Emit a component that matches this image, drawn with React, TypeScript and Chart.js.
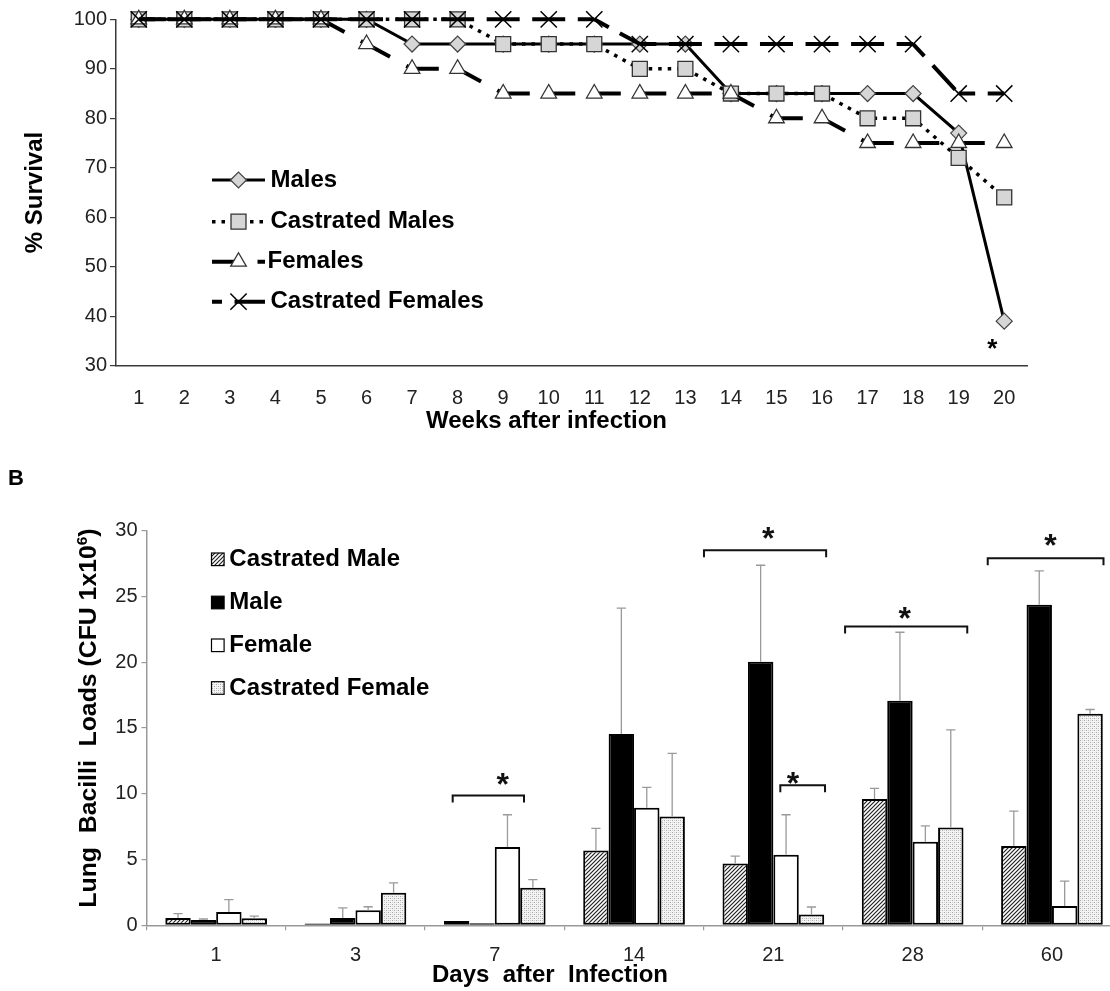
import React, { useEffect, useRef } from 'react';
import { Chart, registerables } from 'chart.js';
import { drawPoint } from 'chart.js/helpers';

Chart.register(...registerables);

const FONT = '"Liberation Sans", Arial, Helvetica, sans-serif';
Chart.defaults.font.family = FONT;

// ---------- Panel A: survival ----------
const weeks = ['1', '2', '3', '4', '5', '6', '7', '8', '9', '10', '11', '12', '13', '14', '15', '16', '17', '18', '19', '20'];
const males = [100, 100, 100, 100, 100, 100, 95, 95, 95, 95, 95, 95, 95, 85, 85, 85, 85, 85, 77, 39];
const castratedMales = [100, 100, 100, 100, 100, 100, 100, 100, 95, 95, 95, 90, 90, 85, 85, 85, 80, 80, 72, 64];
const females = [100, 100, 100, 100, 100, 95, 90, 90, 85, 85, 85, 85, 85, 85, 80, 80, 75, 75, 75, 75];
const castratedFemales = [100, 100, 100, 100, 100, 100, 100, 100, 100, 100, 100, 95, 95, 95, 95, 95, 95, 95, 85, 85];
const survivalTicks = [30, 40, 50, 60, 70, 80, 90, 100];
const survivalStarIndex = 19;
const survivalStarValue = 33;

// ---------- Panel B: lung bacilli loads ----------
const days = ['1', '3', '7', '14', '21', '28', '60'];
const castratedMale = [0.56, 0.13, 0.32, 5.68, 4.69, 9.6, 6.03];
const castratedMaleErr = [0.32, 0, 0, 1.68, 0.56, 0.8, 2.64];
const male = [0.4, 0.56, 0.16, 14.53, 20.03, 17.07, 24.35];
const maleErr = [0.08, 0.77, 0, 9.57, 7.33, 5.2, 2.58];
const female = [1.01, 1.15, 5.95, 8.93, 5.36, 6.35, 1.47];
const femaleErr = [0.94, 0.26, 2.45, 1.55, 3.04, 1.2, 1.89];
const castratedFemale = [0.53, 2.48, 2.85, 8.27, 0.83, 7.44, 16.08];
const castratedFemaleErr = [0.16, 0.75, 0.62, 4.8, 0.56, 7.41, 0.32];
const bracketStart = [1.698, 3.502, 4.05, 4.515, 5.539];
const bracketEnd = [2.21, 4.379, 4.371, 5.392, 6.37];
const bracketValue = [9.87, 28.5, 10.64, 22.7, 27.9];
const starX = [2.057, 3.963, 4.141, 4.943, 5.989];
const starValue = [11.15, 29.81, 11.23, 23.76, 29.28];

function drawCenteredGlyph(ctx: CanvasRenderingContext2D, text: string, cx: number, cy: number) {
  const m = ctx.measureText(text);
  const asc = m.actualBoundingBoxAscent;
  const desc = m.actualBoundingBoxDescent;
  ctx.textBaseline = 'alphabetic';
  ctx.textAlign = 'center';
  ctx.fillText(text, cx, cy + (asc - desc) / 2);
}

function makeHatch(): CanvasPattern | string {
  const c = document.createElement('canvas');
  c.width = 4; c.height = 4;
  const g = c.getContext('2d');
  if (!g) return '#888';
  g.fillStyle = '#fff';
  g.fillRect(0, 0, 4, 4);
  g.strokeStyle = '#222';
  g.lineWidth = 1.2;
  g.beginPath();
  g.moveTo(-1, 5); g.lineTo(5, -1);
  g.moveTo(-1, 1); g.lineTo(1, -1);
  g.moveTo(3, 5); g.lineTo(5, 3);
  g.stroke();
  const p = g.createPattern(c, 'repeat');
  return p || '#888';
}

function makeStipple(): CanvasPattern | string {
  const c = document.createElement('canvas');
  c.width = 4; c.height = 4;
  const g = c.getContext('2d');
  if (!g) return '#ddd';
  g.fillStyle = '#f4f4f4';
  g.fillRect(0, 0, 4, 4);
  g.fillStyle = '#a8a8a8';
  g.fillRect(0, 0, 1, 1);
  g.fillRect(2, 2, 1, 1);
  g.fillStyle = '#d0d0d0';
  g.fillRect(2, 0, 1, 1);
  g.fillRect(0, 2, 1, 1);
  const p = g.createPattern(c, 'repeat');
  return p || '#ddd';
}

function SurvivalChart() {
  const ref = useRef<HTMLCanvasElement>(null);
  useEffect(() => {
    const canvas = ref.current;
    if (!canvas) return;
    const W = 1110, H = 440;
    const area = { left: 116, right: 1027, top: 19.3, bottom: 365.7 };
    const xAxisH = 40;
    const period = 45.55;

    const legendLayout = [
      { y: 180, dashOffset: 0, textX: 270.5 },
      { y: 221.7, dashOffset: 0, textX: 270.5 },
      { y: 261.7, dashOffset: 0, textX: 267.5 },
      { y: 301.7, dashOffset: 23, textX: 270.5 },
    ];

    const overlay = {
      id: 'survivalOverlay',
      afterDraw(chart: any) {
        const ctx: CanvasRenderingContext2D = chart.ctx;
        const xs = chart.scales.x;
        const ys = chart.scales.y;
        ctx.save();
        // legend
        chart.data.datasets.forEach((ds: any, i: number) => {
          const L = legendLayout[i];
          ctx.save();
          ctx.strokeStyle = '#000';
          ctx.lineWidth = ds.borderWidth;
          ctx.setLineDash(ds.borderDash || []);
          ctx.lineDashOffset = L.dashOffset;
          ctx.beginPath();
          ctx.moveTo(212, L.y);
          ctx.lineTo(265, L.y);
          ctx.stroke();
          ctx.setLineDash([]);
          ctx.fillStyle = ds.pointBackgroundColor;
          ctx.strokeStyle = ds.pointBorderColor;
          ctx.lineWidth = ds.pointBorderWidth;
          drawPoint(ctx, { pointStyle: ds.pointStyle, radius: ds.pointRadius, rotation: 0, borderWidth: ds.pointBorderWidth } as any, 238.5, L.y);
          ctx.restore();
          ctx.fillStyle = '#000';
          ctx.font = `bold 24px ${FONT}`;
          ctx.textAlign = 'left';
          ctx.textBaseline = 'middle';
          ctx.fillText(ds.label, L.textX, L.y);
        });
        // axis titles
        ctx.fillStyle = '#000';
        ctx.font = `bold 24px ${FONT}`;
        ctx.textAlign = 'center';
        ctx.textBaseline = 'middle';
        ctx.fillText('Weeks after infection', 546.5, 421);
        ctx.save();
        ctx.translate(35.7, (area.top + area.bottom) / 2);
        ctx.rotate(-Math.PI / 2);
        ctx.fillText('% Survival', 0, 0);
        ctx.restore();
        // significance star
        ctx.font = `bold 26px ${FONT}`;
        drawCenteredGlyph(ctx, '*', xs.getPixelForValue(survivalStarIndex) - 12, ys.getPixelForValue(survivalStarValue));
        ctx.restore();
      },
    };

    const chart = new Chart(canvas, {
      type: 'line',
      data: {
        labels: weeks,
        datasets: [
          {
            label: 'Males', data: males, borderColor: '#000', borderWidth: 3,
            pointStyle: 'rectRot', pointRadius: 8, pointBackgroundColor: '#d6d6d6', pointBorderColor: '#444', pointBorderWidth: 1.2,
            order: 4, clip: false as any, tension: 0,
          },
          {
            label: 'Castrated Males', data: castratedMales, borderColor: '#000', borderWidth: 3.5, borderDash: [3.5, 6],
            pointStyle: 'rect', pointRadius: 10.6, pointBackgroundColor: '#d6d6d6', pointBorderColor: '#333', pointBorderWidth: 1.3,
            order: 3, clip: false as any, tension: 0,
          },
          {
            label: 'Females', data: females, borderColor: '#000', borderWidth: 4, borderDash: [27, 18.5], borderDashOffset: 0,
            pointStyle: 'triangle', pointRadius: 9, pointBackgroundColor: '#fff', pointBorderColor: '#333', pointBorderWidth: 1.3,
            order: 2, clip: false as any, tension: 0,
            segment: { borderDashOffset: (c: any) => c.p0DataIndex * period },
          },
          {
            label: 'Castrated Females', data: castratedFemales, borderColor: '#000', borderWidth: 4, borderDash: [33, 12.55], borderDashOffset: 16.5,
            pointStyle: 'crossRot', pointRadius: 11.5, pointBackgroundColor: '#000', pointBorderColor: '#000', pointBorderWidth: 1.5,
            order: 1, clip: false as any, tension: 0,
            segment: { borderDashOffset: (c: any) => 16.5 + c.p0DataIndex * period },
          },
        ] as any,
      },
      options: {
        responsive: false,
        animation: false,
        layout: { padding: { left: 0, top: area.top, right: W - area.right, bottom: H - area.bottom - xAxisH } },
        plugins: { legend: { display: false }, tooltip: { enabled: false } },
        scales: {
          x: {
            type: 'category',
            offset: true,
            grid: { display: false, drawTicks: false },
            border: { display: true, color: '#3a3a3a', width: 1.5 },
            ticks: { font: { size: 20 }, color: '#222', padding: 21, maxRotation: 0, autoSkip: false },
            afterFit: (s: any) => { s.height = xAxisH; },
          },
          y: {
            min: 30, max: 100,
            afterBuildTicks: (s: any) => { s.ticks = survivalTicks.map((v) => ({ value: v })); },
            grid: { display: true, drawOnChartArea: false, drawTicks: true, tickLength: 6, color: '#3a3a3a', lineWidth: 1.2 },
            border: { display: true, color: '#3a3a3a', width: 1.5 },
            ticks: { font: { size: 20 }, color: '#222', padding: 3 },
            afterFit: (s: any) => { s.width = area.left; },
          },
        },
      },
      plugins: [overlay],
    });
    return () => chart.destroy();
  }, []);
  return <canvas ref={ref} width={1110} height={440} style={{ position: 'absolute', left: 0, top: 0 }} />;
}

function LoadsChart() {
  const ref = useRef<HTMLCanvasElement>(null);
  useEffect(() => {
    const canvas = ref.current;
    if (!canvas) return;
    const W = 1130, H = 551;
    const area = { left: 146.5, right: 1121.6, top: 90.5, bottom: 485.3 };
    const xAxisH = 50;
    const hatch = makeHatch();
    const stipple = makeStipple();
    const errs = [castratedMaleErr, maleErr, femaleErr, castratedFemaleErr];
    const legendY = [119.3, 162.5, 205.3, 248];

    const overlay = {
      id: 'loadsOverlay',
      afterDatasetsDraw(chart: any) {
        const ctx: CanvasRenderingContext2D = chart.ctx;
        const ys = chart.scales.y;
        const xs = chart.scales.x;
        ctx.save();
        // error bars
        ctx.strokeStyle = '#9a9a9a';
        ctx.lineWidth = 1.3;
        chart.data.datasets.forEach((ds: any, i: number) => {
          const meta = chart.getDatasetMeta(i);
          meta.data.forEach((bar: any, j: number) => {
            const e = errs[i][j];
            if (!e) return;
            const yTop = ys.getPixelForValue((ds.data[j] as number) + e);
            ctx.beginPath();
            ctx.moveTo(bar.x, bar.y);
            ctx.lineTo(bar.x, yTop);
            ctx.moveTo(bar.x - 4.6, yTop);
            ctx.lineTo(bar.x + 4.6, yTop);
            ctx.stroke();
          });
        });
        // brackets + stars
        ctx.strokeStyle = '#111';
        ctx.lineWidth = 2;
        ctx.fillStyle = '#111';
        ctx.font = `bold 32px ${FONT}`;
        bracketValue.forEach((v, k) => {
          const x0 = xs.getPixelForValue(bracketStart[k]);
          const x1 = xs.getPixelForValue(bracketEnd[k]);
          const y = ys.getPixelForValue(v);
          ctx.beginPath();
          ctx.moveTo(x0, y + 7);
          ctx.lineTo(x0, y);
          ctx.lineTo(x1, y);
          ctx.lineTo(x1, y + 7);
          ctx.stroke();
          drawCenteredGlyph(ctx, '*', xs.getPixelForValue(starX[k]), ys.getPixelForValue(starValue[k]));
        });
        ctx.restore();
      },
      afterDraw(chart: any) {
        const ctx: CanvasRenderingContext2D = chart.ctx;
        ctx.save();
        // legend
        chart.data.datasets.forEach((ds: any, i: number) => {
          const y = legendY[i];
          ctx.fillStyle = ds.backgroundColor;
          ctx.fillRect(211.5, y - 6.3, 12.6, 12.6);
          ctx.strokeStyle = '#000';
          ctx.lineWidth = 1.2;
          ctx.strokeRect(211.5, y - 6.3, 12.6, 12.6);
          ctx.fillStyle = '#000';
          ctx.font = `bold 24px ${FONT}`;
          ctx.textAlign = 'left';
          ctx.textBaseline = 'middle';
          ctx.fillText(ds.label, 229.3, y);
        });
        // panel label
        ctx.font = `bold 22px ${FONT}`;
        ctx.fillText('B', 8, 39);
        // x title
        ctx.font = `bold 24px ${FONT}`;
        ctx.textAlign = 'center';
        ctx.fillText('Days  after  Infection', 550, 535.5);
        // y title with superscript
        ctx.save();
        ctx.translate(89.3, 278);
        ctx.rotate(-Math.PI / 2);
        const main = 'Lung  Bacilli  Loads (CFU 1x10';
        const sup = '6';
        const close = ')';
        const big = `bold 24.8px ${FONT}`;
        const small = `bold 15.5px ${FONT}`;
        ctx.font = big;
        const wMain = ctx.measureText(main).width;
        const wClose = ctx.measureText(close).width;
        ctx.font = small;
        const wSup = ctx.measureText(sup).width;
        const total = wMain + wSup + wClose;
        let x = -total / 2;
        ctx.textAlign = 'left';
        ctx.textBaseline = 'middle';
        ctx.font = big;
        ctx.fillText(main, x, 0);
        x += wMain;
        ctx.font = small;
        ctx.fillText(sup, x, -7);
        x += wSup;
        ctx.font = big;
        ctx.fillText(close, x, 0);
        ctx.restore();
        ctx.restore();
      },
    };

    const common = { borderColor: '#000', borderWidth: 2, borderSkipped: false, categoryPercentage: 0.73, barPercentage: 1.0 };
    const chart = new Chart(canvas, {
      type: 'bar',
      data: {
        labels: days,
        datasets: [
          { label: 'Castrated Male', data: castratedMale, backgroundColor: hatch as any, ...common },
          { label: 'Male', data: male, backgroundColor: '#000', ...common },
          { label: 'Female', data: female, backgroundColor: '#fff', ...common },
          { label: 'Castrated Female', data: castratedFemale, backgroundColor: stipple as any, ...common },
        ] as any,
      },
      options: {
        responsive: false,
        animation: false,
        layout: { padding: { left: 0, top: area.top, right: W - area.right, bottom: H - area.bottom - xAxisH } },
        plugins: { legend: { display: false }, tooltip: { enabled: false } },
        scales: {
          x: {
            type: 'category',
            offset: true,
            grid: { display: true, drawOnChartArea: false, drawTicks: true, tickLength: 5, color: '#999', offset: true, lineWidth: 1.2 },
            border: { display: true, color: '#999', width: 1.5 },
            ticks: { font: { size: 20 }, color: '#222', padding: 13.5, maxRotation: 0, autoSkip: false },
            afterFit: (s: any) => { s.height = xAxisH; },
          },
          y: {
            min: 0, max: 30,
            ticks: { stepSize: 5, font: { size: 20 }, color: '#222', padding: 4 },
            grid: { display: true, drawOnChartArea: false, drawTicks: true, tickLength: 5, color: '#999', lineWidth: 1.2 },
            border: { display: true, color: '#999', width: 1.5 },
            afterFit: (s: any) => { s.width = area.left; },
          },
        },
      },
      plugins: [overlay],
    });
    return () => chart.destroy();
  }, []);
  return <canvas ref={ref} width={1130} height={551} style={{ position: 'absolute', left: 0, top: 440 }} />;
}

export default function App() {
  return (
    <div style={{ position: 'absolute', left: 0, top: 0, width: 1110, height: 991, overflow: 'hidden', background: '#fff' }}>
      <SurvivalChart />
      <LoadsChart />
    </div>
  );
}
